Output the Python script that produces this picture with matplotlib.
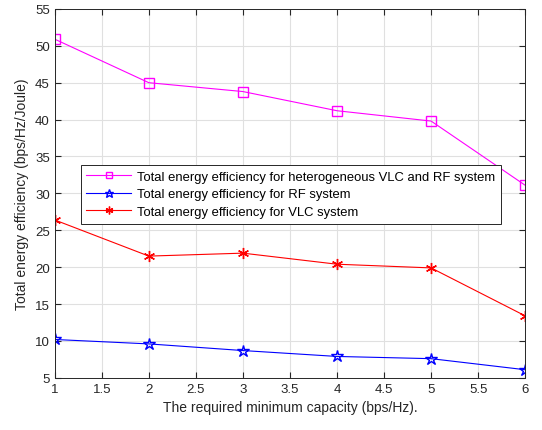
import matplotlib.pyplot as plt
import numpy as np

plt.rcParams['font.family'] = ['Liberation Sans', 'DejaVu Sans']

capacity = [1, 2, 3, 4, 5, 6]
ee_hetero = [50.9, 45.0, 43.8, 41.2, 39.8, 31.1]
ee_rf = [10.2, 9.6, 8.7, 7.9, 7.6, 6.1]
ee_vlc = [26.4, 21.5, 21.9, 20.4, 19.9, 13.4]

fig = plt.figure(figsize=(5.42, 4.31), dpi=100)
ax = fig.add_axes([0.101, 0.121, 0.868, 0.856])

ax.plot(capacity, ee_hetero, color='#ff00ff', marker='s', markersize=6.5, markerfacecolor='none',
        linewidth=0.8, label='Total energy efficiency for heterogeneous VLC and RF system')
ax.plot(capacity, ee_rf, color='blue', marker='*', markersize=9, markerfacecolor='none',
        linewidth=0.8, label='Total energy efficiency for RF system')
ax.plot(capacity, ee_vlc, color='red', marker=(6, 2, 0), markersize=8,
        linewidth=0.8, label='Total energy efficiency for VLC system')

ax.set_xlim(1, 6)
ax.set_ylim(5, 55)
ax.set_xticks(np.arange(1, 6.01, 0.5))
ax.set_xticklabels(['1', '1.5', '2', '2.5', '3', '3.5', '4', '4.5', '5', '5.5', '6'])
ax.set_yticks(np.arange(5, 56, 5))
ax.grid(True, color='#e0e0e0', linewidth=0.8)
ax.set_axisbelow(True)
ax.tick_params(direction='in', top=True, right=True, labelsize=9.5, colors='#262626', length=4)
for s in ax.spines.values():
    s.set_color('#262626')
    s.set_linewidth(0.7)

ax.set_xlabel('The required minimum capacity (bps/Hz).', fontsize=10, color='#262626')
ax.set_ylabel('Total energy efficiency (bps/Hz/Joule)', fontsize=10, color='#262626')

leg = ax.legend(loc='upper left', bbox_to_anchor=(0.055, 0.577), fontsize=9.4, fancybox=False,
                edgecolor='#262626', framealpha=1, handlelength=3.4, borderpad=0.45,
                labelspacing=0.4, markerscale=0.7, handletextpad=0.5, borderaxespad=0)
leg.get_frame().set_linewidth(0.7)

plt.savefig('out.png', dpi=100)
plt.close()
